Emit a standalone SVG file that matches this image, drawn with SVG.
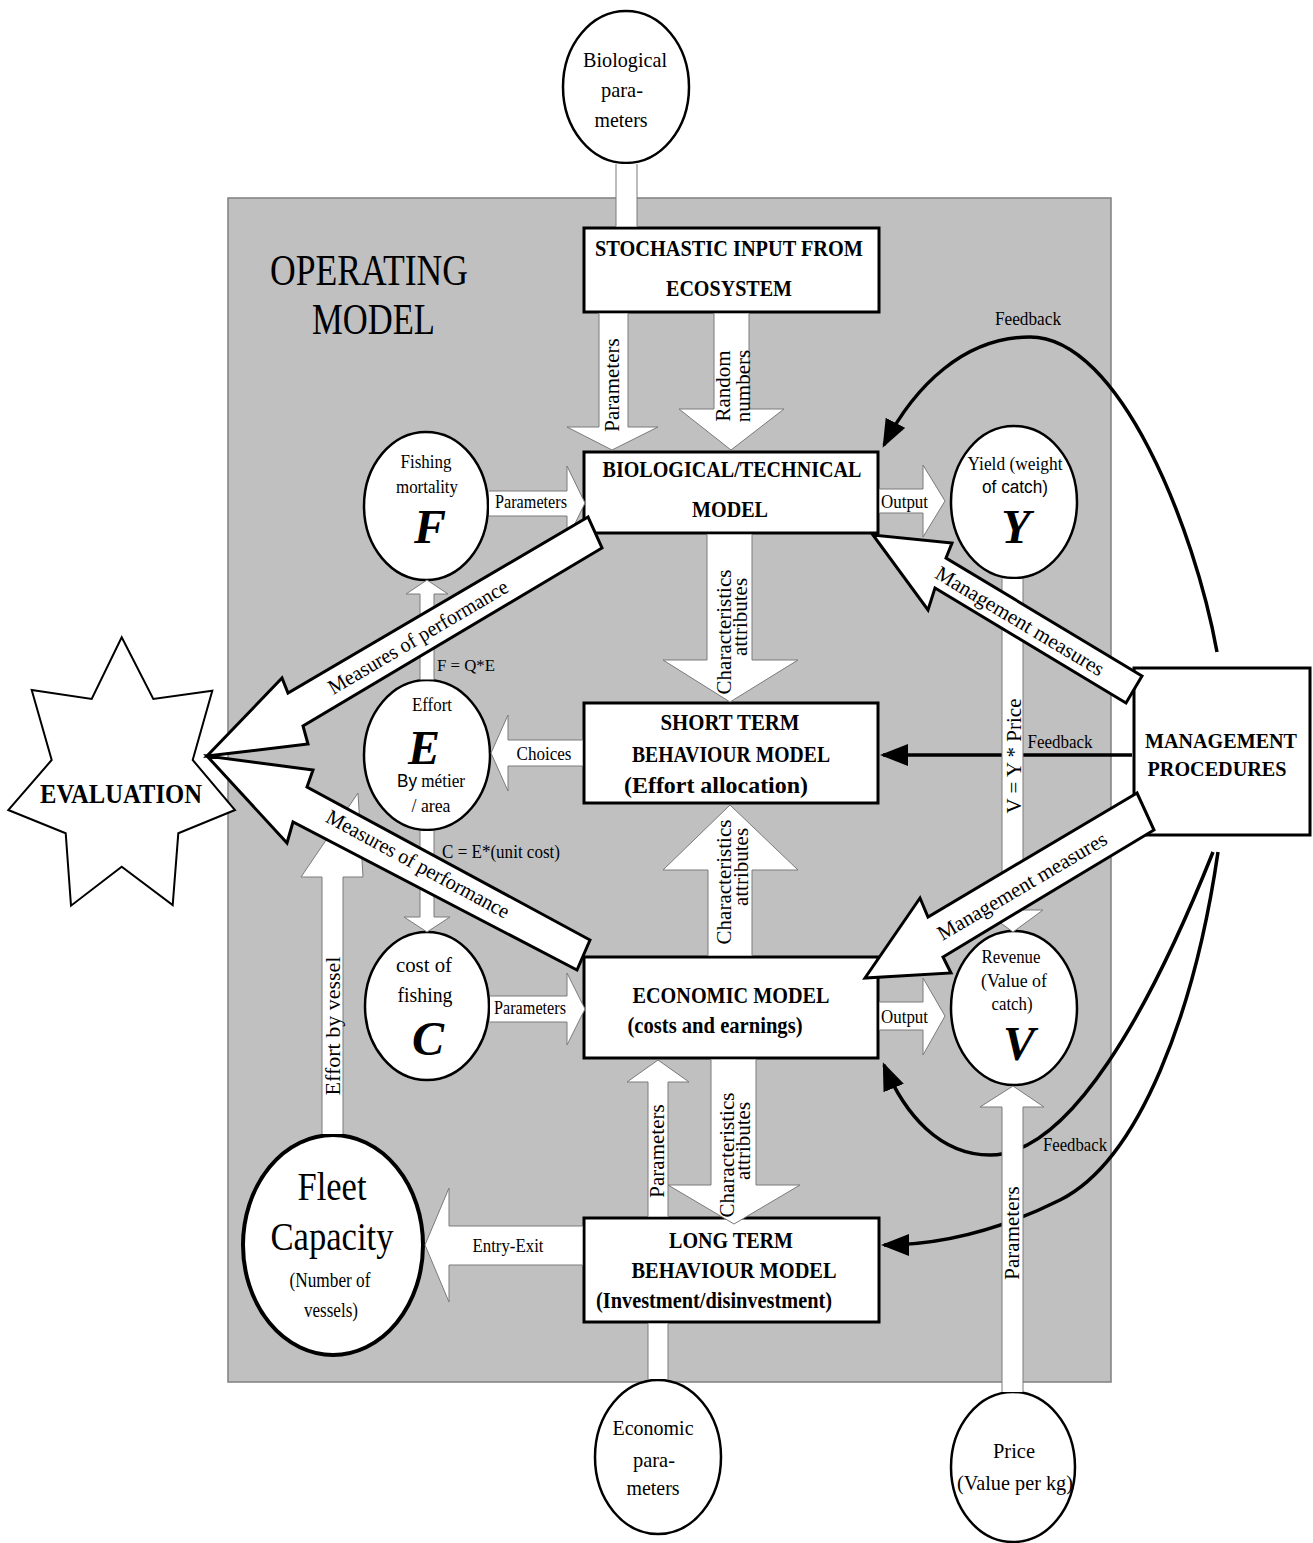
<svg xmlns="http://www.w3.org/2000/svg" width="1313" height="1543" viewBox="0 0 1313 1543">
<style>
.bg{fill:#c0c0c0;stroke:#808080;stroke-width:1.5}
.box{fill:#fff;stroke:#000;stroke-width:3}
.ell{fill:#fff;stroke:#000;stroke-width:2.5}
.wa{fill:#fff;stroke:#7a7a7a;stroke-width:1}
.ln{fill:none;stroke:#7a7a7a;stroke-width:1}
.ba{fill:#fff;stroke:#000;stroke-width:3;stroke-linejoin:miter}
.fb{fill:none;stroke:#000;stroke-width:3.5;marker-end:url(#ah)}
text{font-family:"Liberation Serif","Times New Roman",serif;fill:#000}
.c{text-anchor:middle}
.b{font-weight:bold}
.bi{font-weight:bold;font-style:italic}
.s{font-family:"Liberation Sans",Arial,sans-serif}
</style>
<defs>
<marker id="ah" markerUnits="userSpaceOnUse" markerWidth="28" markerHeight="22" viewBox="0 0 28 22" refX="25" refY="11" orient="auto"><path d="M0,0 L28,11 L0,22 z" fill="#000"/></marker>
</defs>

<g id="operating-model">
<rect class="bg" x="228" y="198" width="883" height="1184"/>
<text x="270" y="285" font-size="44" textLength="198" lengthAdjust="spacingAndGlyphs">OPERATING</text>
<text x="312" y="334" font-size="44" textLength="123" lengthAdjust="spacingAndGlyphs">MODEL</text>
</g>

<g id="n-bioparams">
<ellipse class="ell" cx="626" cy="87" rx="63" ry="76"/>
<text class="c" x="625" y="67" font-size="21" textLength="84" lengthAdjust="spacingAndGlyphs">Biological</text>
<text class="c" x="622" y="97" font-size="21" textLength="42" lengthAdjust="spacingAndGlyphs">para-</text>
<text class="c" x="621" y="127" font-size="21" textLength="53" lengthAdjust="spacingAndGlyphs">meters</text>
</g>

<g id="n-stochastic">
<rect class="box" x="584" y="228" width="295" height="84"/>
<text class="c b" x="729" y="256" font-size="24" textLength="268" lengthAdjust="spacingAndGlyphs">STOCHASTIC INPUT FROM</text>
<text class="c b" x="729" y="296" font-size="24" textLength="126" lengthAdjust="spacingAndGlyphs">ECOSYSTEM</text>
</g>

<g id="n-biotech">
<rect class="box" x="584" y="452" width="294" height="81"/>
<text class="c b" x="732" y="477" font-size="24" textLength="259" lengthAdjust="spacingAndGlyphs">BIOLOGICAL/TECHNICAL</text>
<text class="c b" x="730" y="517" font-size="24" textLength="76" lengthAdjust="spacingAndGlyphs">MODEL</text>
</g>

<g id="n-short">
<rect class="box" x="584" y="703" width="294" height="100"/>
<text class="c b" x="730" y="730" font-size="24" textLength="139" lengthAdjust="spacingAndGlyphs">SHORT TERM</text>
<text class="c b" x="731" y="762" font-size="24" textLength="198" lengthAdjust="spacingAndGlyphs">BEHAVIOUR MODEL</text>
<text class="c b" x="716" y="793" font-size="24" textLength="184" lengthAdjust="spacingAndGlyphs">(Effort allocation)</text>
</g>

<g id="n-econ">
<rect class="box" x="584" y="957" width="294" height="101"/>
<text class="c b" x="731" y="1003" font-size="24" textLength="197" lengthAdjust="spacingAndGlyphs">ECONOMIC MODEL</text>
<text class="c b" x="715" y="1033" font-size="24" textLength="175" lengthAdjust="spacingAndGlyphs">(costs and earnings)</text>
</g>

<g id="n-long">
<rect class="box" x="584" y="1218" width="295" height="104"/>
<text class="c b" x="731" y="1248" font-size="24" textLength="124" lengthAdjust="spacingAndGlyphs">LONG TERM</text>
<text class="c b" x="734" y="1278" font-size="24" textLength="205" lengthAdjust="spacingAndGlyphs">BEHAVIOUR MODEL</text>
<text class="c b" x="714" y="1308" font-size="24" textLength="236" lengthAdjust="spacingAndGlyphs">(Investment/disinvestment)</text>
</g>

<g id="n-mgmt">
<rect class="box" x="1134" y="668" width="176" height="167"/>
<text class="c b" x="1221" y="748" font-size="22" textLength="152" lengthAdjust="spacingAndGlyphs">MANAGEMENT</text>
<text class="c b" x="1217" y="776" font-size="22" textLength="139" lengthAdjust="spacingAndGlyphs">PROCEDURES</text>
</g>

<g id="n-F">
<ellipse class="ell" cx="426" cy="506" rx="62" ry="74"/>
<text class="c" x="426" y="468" font-size="19" textLength="51" lengthAdjust="spacingAndGlyphs">Fishing</text>
<text class="c" x="427" y="493" font-size="19" textLength="62" lengthAdjust="spacingAndGlyphs">mortality</text>
<text class="c bi" x="430" y="543" font-size="48">F</text>
</g>

<g id="n-E">
<ellipse class="ell" cx="427" cy="755" rx="63" ry="75"/>
<text class="c" x="432" y="711" font-size="19" textLength="40" lengthAdjust="spacingAndGlyphs">Effort</text>
<text class="c bi" x="424" y="764" font-size="48">E</text>
<text class="c" x="431" y="787" font-size="19" textLength="68" lengthAdjust="spacingAndGlyphs"><tspan class="s">By</tspan> métier</text>
<text class="c" x="431" y="812" font-size="19" textLength="39" lengthAdjust="spacingAndGlyphs">/ area</text>
</g>

<g id="n-C">
<ellipse class="ell" cx="427" cy="1006" rx="62" ry="74"/>
<text class="c" x="424" y="972" font-size="21" textLength="56" lengthAdjust="spacingAndGlyphs">cost of</text>
<text class="c" x="425" y="1002" font-size="21" textLength="55" lengthAdjust="spacingAndGlyphs">fishing</text>
<text class="c bi" x="428" y="1055" font-size="48">C</text>
</g>

<g id="n-Y">
<ellipse class="ell" cx="1014" cy="502" rx="63" ry="76"/>
<text class="c" x="1015" y="470" font-size="19" textLength="95" lengthAdjust="spacingAndGlyphs">Yield (weight</text>
<text class="c s" x="1015" y="493" font-size="18" textLength="66" lengthAdjust="spacingAndGlyphs">of catch)</text>
<text class="c bi" x="1016" y="543" font-size="48">Y</text>
</g>

<g id="n-V">
<ellipse class="ell" cx="1014" cy="1008" rx="63" ry="77"/>
<text class="c" x="1011" y="963" font-size="18" textLength="59" lengthAdjust="spacingAndGlyphs">Revenue</text>
<text class="c" x="1014" y="987" font-size="18" textLength="66" lengthAdjust="spacingAndGlyphs">(Value of</text>
<text class="c" x="1012" y="1010" font-size="18" textLength="41" lengthAdjust="spacingAndGlyphs">catch)</text>
<text class="c bi" x="1019" y="1060" font-size="48">V</text>
</g>

<g id="n-fleet">
<ellipse cx="333" cy="1245" rx="90" ry="110" fill="#fff" stroke="#000" stroke-width="4"/>
<text class="c" x="332" y="1200" font-size="40" textLength="69" lengthAdjust="spacingAndGlyphs">Fleet</text>
<text class="c" x="332" y="1250" font-size="40" textLength="123" lengthAdjust="spacingAndGlyphs">Capacity</text>
<text class="c" x="330" y="1287" font-size="20" textLength="81" lengthAdjust="spacingAndGlyphs">(Number of</text>
<text class="c" x="331" y="1317" font-size="20" textLength="54" lengthAdjust="spacingAndGlyphs">vessels)</text>
</g>

<g id="n-econparams">
<ellipse class="ell" cx="658" cy="1457" rx="63" ry="77"/>
<text class="c" x="653" y="1435" font-size="21" textLength="81" lengthAdjust="spacingAndGlyphs">Economic</text>
<text class="c" x="654" y="1467" font-size="21" textLength="42" lengthAdjust="spacingAndGlyphs">para-</text>
<text class="c" x="653" y="1495" font-size="21" textLength="53" lengthAdjust="spacingAndGlyphs">meters</text>
</g>

<g id="n-price">
<ellipse class="ell" cx="1013" cy="1467" rx="62" ry="75"/>
<text class="c" x="1014" y="1458" font-size="21" textLength="42" lengthAdjust="spacingAndGlyphs">Price</text>
<text class="c" x="1015" y="1490" font-size="21" textLength="116" lengthAdjust="spacingAndGlyphs">(Value per kg)</text>
</g>

<g id="n-eval">
<polygon points="121.7,637.3 153.3,699 212.3,690.7 192.7,760 235,810 178.3,833.3 172.7,905 121.7,866.7 71,905.7 65.7,833.3 8.3,810 51.7,760 31.7,690 91.7,699" fill="#fff" stroke="#000" stroke-width="2"/>
<text class="c b" x="121" y="803" font-size="27" textLength="162" lengthAdjust="spacingAndGlyphs">EVALUATION</text>
</g>

<g id="connectors">
<!-- feedback curves -->
<path class="fb" d="M1217,652 C1195,530 1120,337 1030,337 C965,337 915,385 884,445"/>
<path class="fb" d="M1132,755 L883,755"/>
<path class="fb" d="M1213,852 C1150,1010 1070,1155 990,1155 C940,1155 905,1115 884,1065"/>
<path class="fb" d="M1218,852 C1195,1010 1140,1160 1060,1200 C1010,1225 950,1245 884,1245"/>

<!-- stems -->
<rect x="616" y="164" width="21" height="62.5" fill="#fff"/>
<path class="ln" d="M616,164 L616,226.5 M637,164 L637,226.5"/>
<rect x="648" y="1323.5" width="20" height="55.5" fill="#fff"/>
<path class="ln" d="M648,1323.5 L648,1379 M668,1323.5 L668,1379"/>

<!-- white block arrows -->
<path class="wa" d="M599,313.5 L599,427 L567,427 L612,450 L658,427 L628,427 L628,313.5"/>
<path class="wa" d="M714,313.5 L714,409 L679,409 L731,450 L784,409 L749,409 L749,313.5"/>
<path class="wa" d="M707,534.5 L707,660 L663,660 L730,702 L798,660 L752,660 L752,534.5"/>
<path class="wa" d="M708,955.5 L708,870 L663,870 L730,805 L798,870 L752,870 L752,955.5"/>
<path class="wa" d="M648,1216.5 L648,1082 L627,1082 L658,1060 L689,1082 L668,1082 L668,1216.5"/>
<path class="wa" d="M711,1059.5 L711,1185 L668,1185 L734,1224 L800,1185 L756,1185 L756,1059.5"/>
<path class="wa" d="M489,491 L567,491 L567,466 L585,503 L567,540 L567,516 L489,516"/>
<path class="wa" d="M490,996 L567,996 L567,973 L585,1009 L567,1045 L567,1022 L490,1022"/>
<path class="wa" d="M582.5,740 L508,740 L508,715 L491,753 L508,791 L508,766 L582.5,766"/>
<path class="wa" d="M879.5,489 L923,489 L923,465 L945,501 L923,537 L923,513 L879.5,513"/>
<path class="wa" d="M879.5,1002 L923,1002 L923,978 L945,1016 L923,1055 L923,1030 L879.5,1030"/>
<path class="wa" d="M420,679.5 L420,594 L406,594 L427,580 L448,594 L434,594 L434,679.5"/>
<path class="wa" d="M420,831 L420,917 L404,917 L427,932 L450,917 L434,917 L434,831"/>
<path class="wa" d="M582.5,1226 L449,1226 L449,1188 L425,1245 L449,1302 L449,1265 L582.5,1265"/>
<path class="wa" d="M322,1134 L322,877 L301,877 L358,793 L363,877 L343,877 L343,1134"/>
<path class="wa" d="M1002,579 L1002,910 L983,910 L1013,932 L1043,910 L1023,910 L1023,579"/>
<path class="wa" d="M1002,1392 L1002,1107 L980,1107 L1013,1086 L1044,1107 L1023,1107 L1023,1392"/>

<!-- labels on white arrows -->
<text class="c" font-size="21" transform="translate(619,385) rotate(-90)">Parameters</text>
<text class="c" font-size="21" transform="translate(730,386) rotate(-90)">Random</text>
<text class="c" font-size="21" transform="translate(750,386) rotate(-90)">numbers</text>
<text class="c" font-size="21" transform="translate(731,632) rotate(-90)">Characteristics</text>
<text class="c" font-size="21" transform="translate(747,617) rotate(-90)">attributes</text>
<text class="c" font-size="21" transform="translate(731,882) rotate(-90)">Characteristics</text>
<text class="c" font-size="21" transform="translate(748,867) rotate(-90)">attributes</text>
<text class="c" font-size="21" transform="translate(664,1151) rotate(-90)">Parameters</text>
<text class="c" font-size="21" transform="translate(734,1155) rotate(-90)">Characteristics</text>
<text class="c" font-size="21" transform="translate(750,1141) rotate(-90)">attributes</text>
<text class="c" font-size="21" transform="translate(1019,1233) rotate(-90)">Parameters</text>
<text class="c" font-size="22" transform="translate(340,1026) rotate(-90)">Effort by vessel</text>
<text class="c" font-size="21" transform="translate(1021,756) rotate(-90)">V = Y * Price</text>
<text class="c" x="531" y="508" font-size="19" textLength="72" lengthAdjust="spacingAndGlyphs">Parameters</text>
<text class="c" x="530" y="1014" font-size="19" textLength="72" lengthAdjust="spacingAndGlyphs">Parameters</text>
<text class="c" x="904.5" y="508" font-size="19" textLength="47" lengthAdjust="spacingAndGlyphs">Output</text>
<text class="c" x="904.5" y="1023" font-size="19" textLength="47" lengthAdjust="spacingAndGlyphs">Output</text>
<text class="c" x="544" y="760" font-size="19" textLength="55" lengthAdjust="spacingAndGlyphs">Choices</text>
<text class="c" x="508" y="1252" font-size="19" textLength="71" lengthAdjust="spacingAndGlyphs">Entry-Exit</text>
<text x="437" y="671" font-size="17" textLength="58" lengthAdjust="spacingAndGlyphs">F = Q*E</text>
<text x="442" y="858" font-size="18" textLength="118" lengthAdjust="spacingAndGlyphs">C = E*(unit cost)</text>
<text class="c" x="1028" y="325" font-size="18" textLength="66" lengthAdjust="spacingAndGlyphs">Feedback</text>
<text class="c" x="1060" y="748" font-size="18" textLength="65" lengthAdjust="spacingAndGlyphs">Feedback</text>
<text class="c" x="1075" y="1151" font-size="18" textLength="64" lengthAdjust="spacingAndGlyphs">Feedback</text>

<!-- black outlined block arrows -->
<polygon class="ba" points="588,517 288,693 282,678 207,756 308,744 303,726 602,548"/>
<polygon class="ba" points="590,940 307,787 313,770 207,756 287,843 293,822 577,970"/>
<polygon class="ba" points="1142,676 946,558 952,543 873,535 928,610 935,588 1126,703"/>
<polygon class="ba" points="1137,793 928,917 920,898 865,978 951,973 943,957 1154,830"/>
<text class="c" font-size="21" transform="translate(418,637) rotate(-30.5)" y="7" textLength="205" lengthAdjust="spacingAndGlyphs">Measures of performance</text>
<text class="c" font-size="21" transform="translate(418,864) rotate(28.5)" y="7" textLength="205" lengthAdjust="spacingAndGlyphs">Measures of performance</text>
<text class="c" font-size="21" transform="translate(1020,621) rotate(31)" y="7">Management measures</text>
<text class="c" font-size="21" transform="translate(1022,886) rotate(-30.5)" y="7">Management measures</text>
</g>
</svg>
